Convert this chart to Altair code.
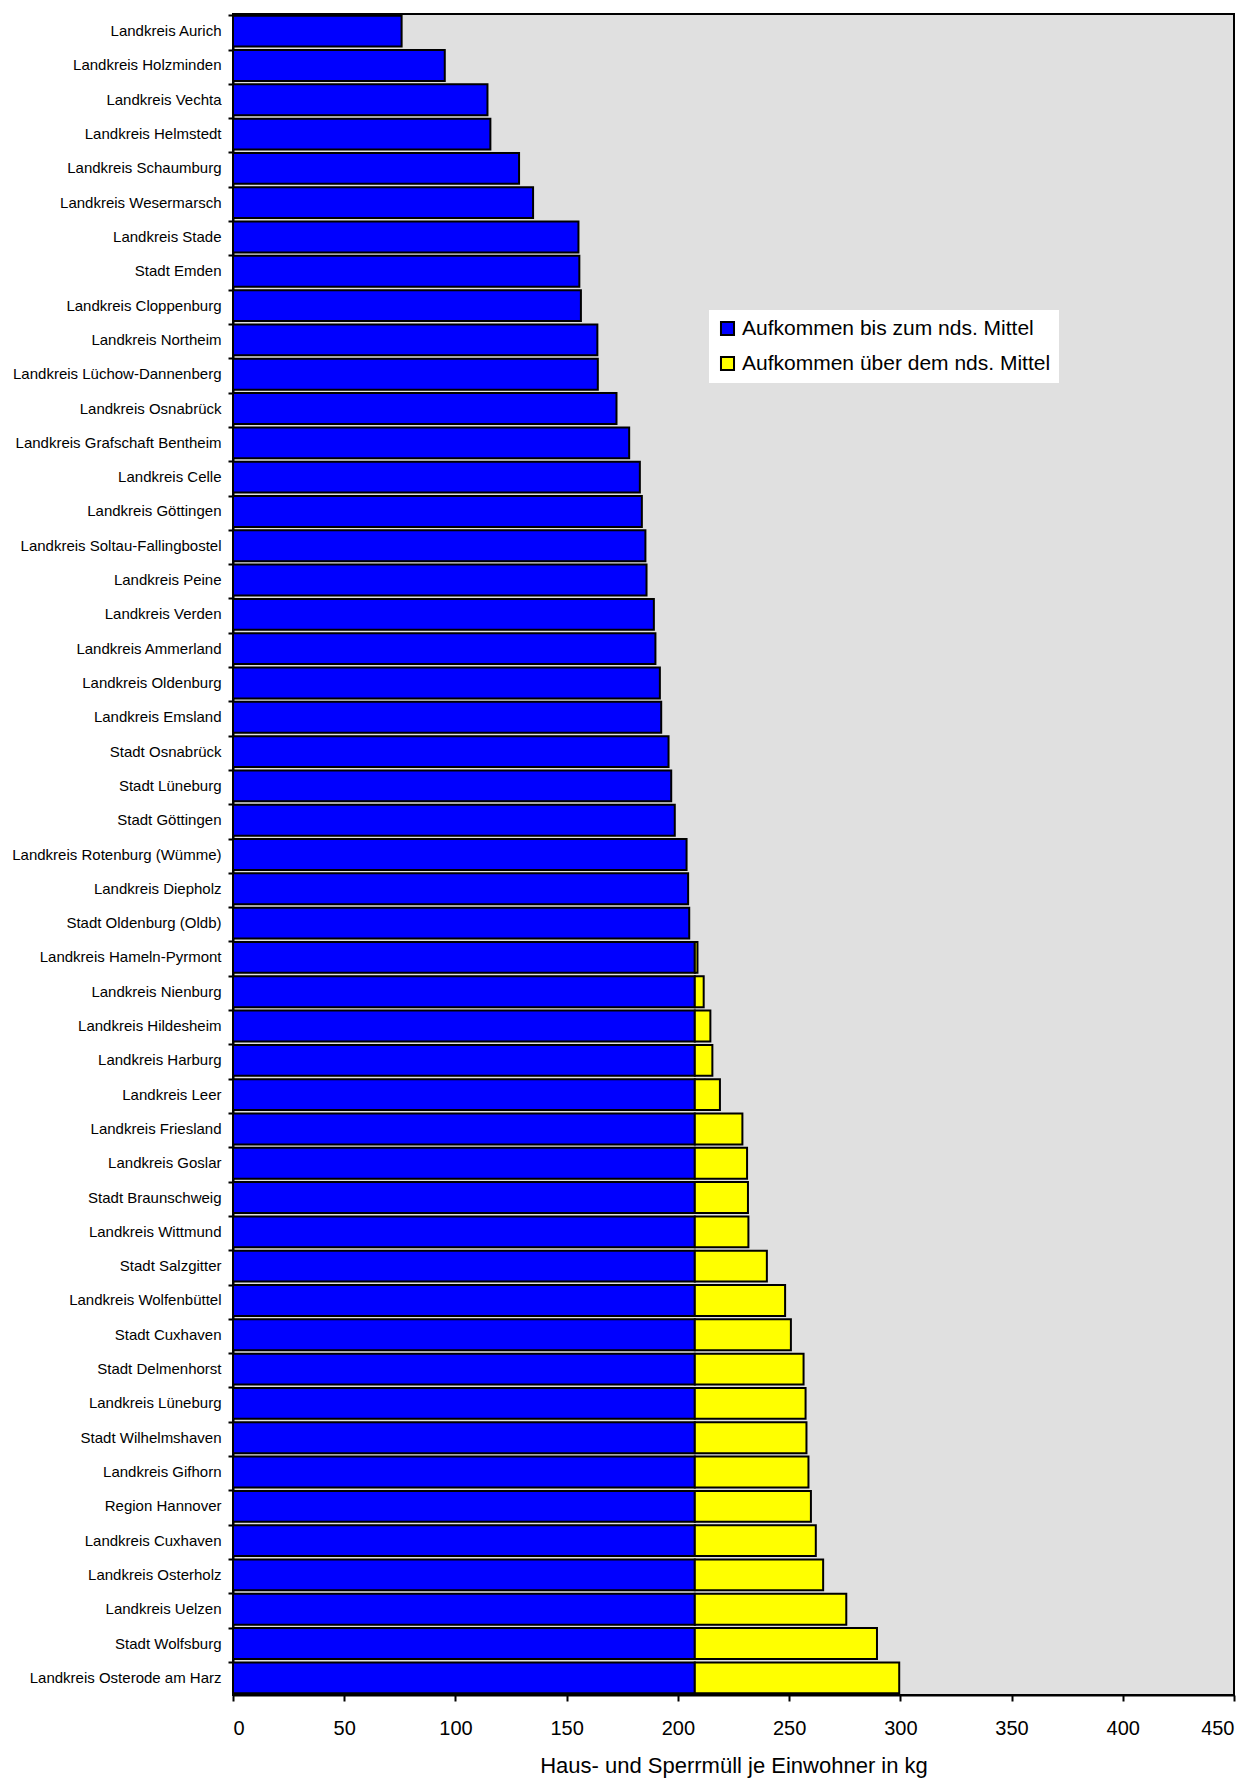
import altair as alt
import pandas as pd

regions = [
    "Landkreis Aurich", "Landkreis Holzminden", "Landkreis Vechta", "Landkreis Helmstedt",
    "Landkreis Schaumburg", "Landkreis Wesermarsch", "Landkreis Stade", "Stadt Emden",
    "Landkreis Cloppenburg", "Landkreis Northeim", "Landkreis Lüchow-Dannenberg",
    "Landkreis Osnabrück", "Landkreis Grafschaft Bentheim", "Landkreis Celle",
    "Landkreis Göttingen", "Landkreis Soltau-Fallingbostel", "Landkreis Peine",
    "Landkreis Verden", "Landkreis Ammerland", "Landkreis Oldenburg", "Landkreis Emsland",
    "Stadt Osnabrück", "Stadt Lüneburg", "Stadt Göttingen", "Landkreis Rotenburg (Wümme)",
    "Landkreis Diepholz", "Stadt Oldenburg (Oldb)", "Landkreis Hameln-Pyrmont",
    "Landkreis Nienburg", "Landkreis Hildesheim", "Landkreis Harburg", "Landkreis Leer",
    "Landkreis Friesland", "Landkreis Goslar", "Stadt Braunschweig", "Landkreis Wittmund",
    "Stadt Salzgitter", "Landkreis Wolfenbüttel", "Stadt Cuxhaven", "Stadt Delmenhorst",
    "Landkreis Lüneburg", "Stadt Wilhelmshaven", "Landkreis Gifhorn", "Region Hannover",
    "Landkreis Cuxhaven", "Landkreis Osterholz", "Landkreis Uelzen", "Stadt Wolfsburg",
    "Landkreis Osterode am Harz",
]

values = [
    75.8, 95.2, 114.4, 115.7, 128.6, 134.9, 155.3, 155.7, 156.4, 163.8, 164.0,
    172.4, 178.1, 182.9, 183.8, 185.4, 185.9, 189.2, 189.9, 191.9, 192.5,
    195.8, 197.0, 198.6, 203.9, 204.6, 205.1, 208.8,
    211.6, 214.6, 215.5, 218.9, 229.0, 231.1, 231.5, 231.7, 240.0, 248.2,
    250.8, 256.5, 257.4, 257.8, 258.7, 259.8, 262.0, 265.3, 275.7, 289.5, 299.5,
]

mean_value = 207.6

series_names = ["Aufkommen bis zum nds. Mittel", "Aufkommen über dem nds. Mittel"]
series_colors = ["#0000FF", "#FFFF00"]

rows = []
for name, v in zip(regions, values):
    rows.append({"region": name, "start": 0.0, "end": min(v, mean_value), "series": series_names[0]})
    if v > mean_value:
        rows.append({"region": name, "start": mean_value, "end": v, "series": series_names[1]})
df = pd.DataFrame(rows)

font = "Liberation Sans"

chart = alt.Chart(df).mark_bar(stroke="black", strokeWidth=2).encode(
    y=alt.Y(
        "region:N",
        sort=regions,
        title=None,
        scale=alt.Scale(paddingInner=0.1, paddingOuter=0.05),
        axis=alt.Axis(
            labelFontSize=15, labelFont=font, labelColor="black", labelPadding=7,
            tickSize=5, tickWidth=2, tickColor="black", bandPosition=0,
            domainColor="black", domainWidth=2, labelLimit=300,
        ),
    ),
    x=alt.X(
        "start:Q",
        title="Haus- und Sperrmüll je Einwohner in kg",
        scale=alt.Scale(domain=[0, 450], nice=False),
        axis=alt.Axis(
            values=[0, 50, 100, 150, 200, 250, 300, 350, 400, 450],
            grid=False, labelFontSize=20, labelFont=font, labelColor="black",
            labelPadding=17, tickSize=6, tickWidth=2, tickColor="black",
            domainColor="black", domainWidth=2,
            titleFontSize=22, titleFont=font, titleFontWeight="normal",
            titleColor="black", titlePadding=17,
        ),
    ),
    x2="end:Q",
    color=alt.Color(
        "series:N",
        scale=alt.Scale(domain=series_names, range=series_colors),
        legend=alt.Legend(
            title=None, orient="none", legendX=476, legendY=296,
            fillColor="white", padding=8, symbolType="square", symbolSize=170,
            symbolStrokeColor="black", symbolStrokeWidth=2,
            labelFontSize=21, labelFont=font, labelColor="black",
            rowPadding=12, labelOffset=4, labelLimit=600,
        ),
    ),
).properties(
    width=1001,
    height=1681,
    autosize=alt.AutoSizeParams(type="none"),
    padding={"left": 225, "top": 6, "right": 14, "bottom": 90},
).configure_view(
    fill="#E0E0E0", stroke="black", strokeWidth=2,
)

chart.save("out.html", embed_options={"renderer": "svg", "actions": False})
